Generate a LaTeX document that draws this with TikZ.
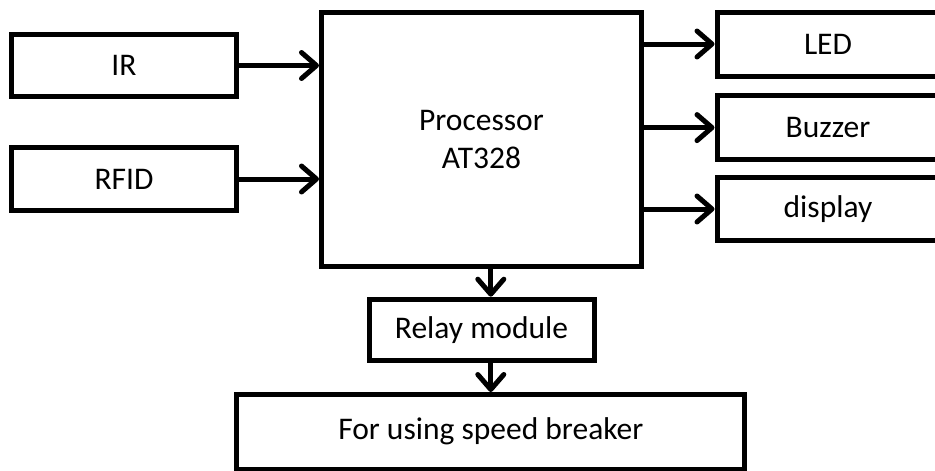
\documentclass[tikz,border=0pt]{standalone}
\usepackage{fontspec}
\setmainfont{Carlito}
\usetikzlibrary{arrows.meta,calc}
\begin{document}
\begin{tikzpicture}[x=1pt,y=-1pt,
  box/.style={draw, line width=5pt, inner sep=0pt, font=\fontsize{31.5}{38}\selectfont, align=center},
  arr/.style={line width=5pt, -{Straight Barb[length=15pt,width=26pt,round]}}]
\useasboundingbox (0,0) rectangle (935,471);
\clip (0,0) rectangle (935,471);
\node[box, minimum width=225pt, minimum height=62pt] (ir) at (124,65.5) {IR};
\node[box, minimum width=225pt, minimum height=63pt] (rfid) at (124,179) {RFID};
\node[box, minimum width=320pt, minimum height=253.5pt] (proc) at (481.5,139.25) {Processor\\AT328};
\node[box, minimum width=222pt, minimum height=64pt] (led) at (828,44) {LED};
\node[box, minimum width=222pt, minimum height=63.7pt] (buz) at (828,127.6) {Buzzer};
\node[box, minimum width=222pt, minimum height=63pt] (disp) at (828,209) {display};
\node[box, minimum width=225pt, minimum height=61.6pt] (relay) at (481.5,330) {Relay module};
\node[box, minimum width=508pt, minimum height=74.5pt] (fb) at (490.8,431.75) {For using speed breaker};
\draw[arr] (ir.east) -- (ir.east -| proc.west);
\draw[arr] (rfid.east) -- (rfid.east -| proc.west);
\draw[arr] (proc.east |- led.west) -- (led.west);
\draw[arr] (proc.east |- buz.west) -- (buz.west);
\draw[arr] (proc.east |- disp.west) -- (disp.west);
\draw[arr] (proc.south -| fb.north) -- (relay.north -| fb.north);
\draw[arr] (relay.south -| fb.north) -- (fb.north);
\end{tikzpicture}
\end{document}
